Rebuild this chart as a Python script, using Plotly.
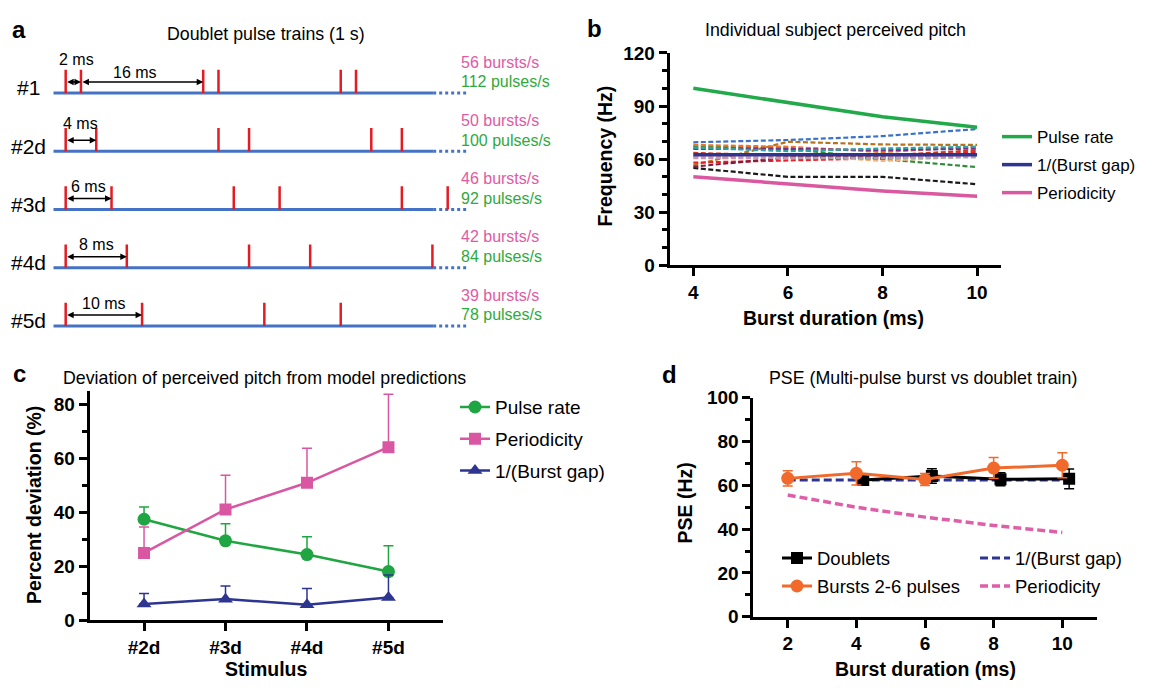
import plotly.graph_objects as go

# ---------------- data ----------------
# panel a: doublet pulse trains (pulse times in ms)
row_labels = ["#1", "#2d", "#3d", "#4d", "#5d"]
pulse_times = [
    [0, 2, 18, 20, 36, 38],
    [0, 4, 20, 24, 40, 44],
    [0, 6, 22, 28, 44, 50],
    [0, 8, 24, 32, 48],
    [0, 10, 26, 36],
]
burst_gaps_ms = [2, 4, 6, 8, 10]
burst_rates = [56, 50, 46, 42, 39]
pulse_rates = [112, 100, 92, 84, 78]
inter_burst_gap_ms = 16

# panel b: individual subject perceived pitch
b_duration = [4, 6, 8, 10]
b_pulse_rate = [100, 92, 84, 78]
b_burst_gap = [62.5, 62.5, 62.5, 62.5]
b_periodicity = [50, 46, 42, 39]
b_subjects = [
    [69.5, 70.8, 73.0, 77.0],
    [56.5, 69.8, 68.3, 68.0],
    [55.0, 50.0, 50.0, 45.8],
    [67.2, 66.0, 60.0, 55.5],
    [58.0, 59.2, 60.5, 64.0],
    [62.0, 62.5, 59.0, 61.7],
    [68.0, 67.0, 64.0, 67.0],
    [65.8, 65.8, 65.0, 66.0],
    [66.5, 64.5, 66.0, 67.0],
    [55.7, 61.0, 60.5, 63.0],
    [60.5, 60.5, 60.5, 61.0],
    [61.0, 61.0, 61.5, 62.0],
    [63.5, 62.0, 62.0, 65.0],
]
b_subject_colors = ["#3B72C4", "#B5731E", "#1A1A1A", "#2E8B3A", "#E8202A", "#F4B27A",
                    "#E8762A", "#7B2D8E", "#2AA3A3", "#7A1F3D", "#A8A8A8", "#E48AB8", "#C0392B"]

# panel c: deviation of perceived pitch from model predictions
c_stimuli = ["#2d", "#3d", "#4d", "#5d"]
c_pulse = [37.4, 29.4, 24.3, 18.0]
c_pulse_err = [4.5, 6.3, 6.6, 9.6]
c_period = [24.9, 41.0, 50.9, 64.1]
c_period_err = [9.6, 12.7, 12.8, 19.6]
c_gap = [6.0, 7.8, 5.7, 8.4]
c_gap_err = [3.9, 4.9, 6.0, 8.3]

# panel d: PSE
d_duration = [2, 4, 6, 8, 10]
d_bursts = [63.2, 65.5, 62.7, 67.9, 69.2]
d_bursts_err = [3.5, 5.3, 2.7, 4.8, 5.7]
d_doublet_duration = [4, 6, 8, 10]
d_doublets = [62.5, 64.3, 62.8, 63.0]
d_doublets_err = [2.3, 3.3, 3.0, 4.5]
d_gap = [62.5, 62.5, 62.5, 62.5, 62.5]
d_period = [55.6, 50.0, 45.5, 41.7, 38.5]

# ---------------- helpers / styles ----------------
W, H = 1154, 691
FONT = "Arial, Liberation Sans, Helvetica, sans-serif"


def px_x(p):
    return p / W


def px_y(p):
    return 1 - p / H


def dom_x(a, b):
    return [a / W, b / W]


def dom_y(top, bottom):
    return [1 - bottom / H, 1 - top / H]


GREEN = "#22A94A"
PINK = "#D9589F"
NAVY = "#2D3590"
ORANGE = "#F26A2B"
RED = "#E41B23"
BLUE = "#4472C4"
TEXT_PINK = "#E05AA2"
TEXT_GREEN = "#2EAA3C"

fig = go.Figure()
annotations = []
shapes = []

# ---------------- panel a ----------------
n_rows = len(row_labels)
PULSE_H = 0.4
bx, by = [], []
dx_, dy_ = [], []
px_, py_ = [], []
for i, times in enumerate(pulse_times):
    base = n_rows - 1 - i
    bx += [-1.62, 48.1, None]
    by += [base, base, None]
    dx_ += [48.1, 52.5, None]
    dy_ += [base, base, None]
    for t in times:
        px_ += [t, t, None]
        py_ += [base, base + PULSE_H, None]

fig.add_trace(go.Scatter(x=bx, y=by, mode="lines", line=dict(color=BLUE, width=3),
                         showlegend=False, hoverinfo="skip", xaxis="x", yaxis="y"))
fig.add_trace(go.Scatter(x=dx_, y=dy_, mode="lines", line=dict(color=BLUE, width=3, dash="3px,3px"),
                         showlegend=False, hoverinfo="skip", xaxis="x", yaxis="y"))
fig.add_trace(go.Scatter(x=px_, y=py_, mode="lines", line=dict(color=RED, width=2.5),
                         showlegend=False, hoverinfo="skip", xaxis="x", yaxis="y"))

text_offsets = [0.58, 0.476, 0.39, 0.40, 0.39]
for i, lab in enumerate(row_labels):
    base = n_rows - 1 - i
    gap = burst_gaps_ms[i]
    annotations.append(dict(x=px_x(28.5), y=base + 0.09, xref="paper", yref="y", text=lab,
                            showarrow=False, font=dict(size=21, color="black"),
                            xanchor="center", yanchor="middle"))
    annotations.append(dict(x=px_x(459), y=base + 0.53, xref="paper", yref="y",
                            text=f"{burst_rates[i]} bursts/s", showarrow=False,
                            font=dict(size=16, color=TEXT_PINK), xanchor="left", yanchor="middle"))
    annotations.append(dict(x=px_x(459), y=base + 0.19, xref="paper", yref="y",
                            text=f"{pulse_rates[i]} pulses/s", showarrow=False,
                            font=dict(size=16, color=TEXT_GREEN), xanchor="left", yanchor="middle"))
    # gap arrow
    annotations.append(dict(x=gap, y=base + 0.19, ax=0, ay=base + 0.19, xref="x", yref="y",
                            axref="x", ayref="y", text="", showarrow=True, arrowhead=2,
                            arrowside="end+start", arrowsize=1, arrowwidth=1.3, arrowcolor="black",
                            standoff=0, startstandoff=0))
    tx = gap / 2 + (0.44 if i == 0 else 0.0)
    annotations.append(dict(x=tx, y=base + text_offsets[i], xref="x", yref="y",
                            text=f"{gap} ms", showarrow=False, font=dict(size=16, color="black"),
                            xanchor="center", yanchor="middle"))
    if i == 0:
        annotations.append(dict(x=gap + inter_burst_gap_ms, y=base + 0.19, ax=gap, ay=base + 0.19,
                                xref="x", yref="y", axref="x", ayref="y", text="", showarrow=True,
                                arrowhead=2, arrowside="end+start", arrowsize=1, arrowwidth=1.3,
                                arrowcolor="black", standoff=0, startstandoff=0))
        annotations.append(dict(x=gap + inter_burst_gap_ms / 2 - 0.9, y=base + 0.36, xref="x", yref="y",
                                text=f"{inter_burst_gap_ms} ms", showarrow=False,
                                font=dict(size=16, color="black"), xanchor="center", yanchor="middle"))

# ---------------- panel b ----------------
for vals, col in zip(b_subjects, b_subject_colors):
    fig.add_trace(go.Scatter(x=b_duration, y=vals, mode="lines",
                             line=dict(color=col, width=2.2, dash="5px,2.5px"),
                             showlegend=False, hoverinfo="skip", xaxis="x2", yaxis="y2"))

for name, vals, col, grp in [("Pulse rate", b_pulse_rate, GREEN, "b1"),
                             ("1/(Burst gap)", b_burst_gap, NAVY, "b2"),
                             ("Periodicity", b_periodicity, PINK, "b3")]:
    fig.add_trace(go.Scatter(x=b_duration, y=vals, mode="lines", name=name,
                             line=dict(color=col, width=3.5), legend="legend", legendgroup=grp,
                             xaxis="x2", yaxis="y2"))

# ---------------- panel c ----------------
c_x = list(range(len(c_stimuli)))
for name, vals, err, col, sym, grp in [
        ("Pulse rate", c_pulse, c_pulse_err, "#1FA541", "circle", "c1"),
        ("Periodicity", c_period, c_period_err, "#D957A2", "square", "c2"),
        ("1/(Burst gap)", c_gap, c_gap_err, NAVY, "triangle-up", "c3")]:
    fig.add_trace(go.Scatter(
        x=c_x, y=vals, mode="lines+markers", name=name,
        line=dict(color=col, width=2.5),
        marker=dict(color=col, symbol=sym, size=13 if sym != "square" else 12),
        error_y=dict(type="data", symmetric=False, array=err, arrayminus=[0] * len(err),
                     color=col, thickness=1.5, width=5),
        legend="legend2", legendgroup=grp, xaxis="x3", yaxis="y3"))

# ---------------- panel d ----------------
fig.add_trace(go.Scatter(x=d_duration, y=d_gap, mode="lines", name="1/(Burst gap)",
                         line=dict(color=NAVY, width=3, dash="8px,4px"),
                         legend="legend4", legendgroup="d3", xaxis="x4", yaxis="y4"))
fig.add_trace(go.Scatter(x=d_duration, y=d_period, mode="lines", name="Periodicity",
                         line=dict(color="#DE5FA8", width=3.5, dash="8px,4px"),
                         legend="legend4", legendgroup="d4", xaxis="x4", yaxis="y4"))
fig.add_trace(go.Scatter(x=[v + 0.2 for v in d_doublet_duration], y=d_doublets,
                         mode="lines+markers", name="Doublets",
                         line=dict(color="black", width=3),
                         marker=dict(color="black", symbol="square", size=12),
                         error_y=dict(type="data", array=d_doublets_err, color="black",
                                      thickness=1.5, width=5),
                         legend="legend3", legendgroup="d1", xaxis="x4", yaxis="y4"))
fig.add_trace(go.Scatter(x=d_duration, y=d_bursts, mode="lines+markers", name="Bursts 2-6 pulses",
                         line=dict(color=ORANGE, width=3),
                         marker=dict(color=ORANGE, symbol="circle", size=13),
                         error_y=dict(type="data", array=d_bursts_err, color=ORANGE,
                                      thickness=1.5, width=5),
                         legend="legend3", legendgroup="d2", xaxis="x4", yaxis="y4"))

# ---------------- axes ----------------
tickfont = dict(family=FONT, size=19, color="black", weight="bold")
common = dict(showline=True, linecolor="black", linewidth=3, ticks="outside", ticklen=8,
              tickwidth=3, tickcolor="black", showgrid=False, zeroline=False, tickfont=tickfont,
              fixedrange=True)
minor = dict(dtick=10, ticks="outside", ticklen=5, tickwidth=2.5, tickcolor="black", showgrid=False)

layout = dict(
    width=W, height=H, autosize=False,
    margin=dict(l=0, r=0, t=0, b=0),
    paper_bgcolor="white", plot_bgcolor="white",
    font=dict(family=FONT, color="black"),
    xaxis=dict(domain=dom_x(53.3, 466.8), range=[-1.62, 52.5], visible=False, anchor="y",
               fixedrange=True),
    yaxis=dict(domain=dom_y(37.6, 344), range=[-0.3, 4.8], visible=False, anchor="x",
               fixedrange=True),
    xaxis2=dict(domain=dom_x(669.7, 1000.7), range=[3.5, 10.5], tickvals=b_duration,
                anchor="y2", **common),
    yaxis2=dict(domain=dom_y(44.3, 263.3), range=[0, 120], dtick=30, minor=minor,
                anchor="x2", **common),
    xaxis3=dict(domain=dom_x(89.7, 442.8), range=[-0.667, 3.667], tickvals=c_x, ticktext=c_stimuli,
                anchor="y3", **common),
    yaxis3=dict(domain=dom_y(392.7, 629.3), range=[0, 85], dtick=20, minor=minor,
                anchor="x3", **common),
    xaxis4=dict(domain=dom_x(753.4, 1096.6), range=[1, 11], tickvals=d_duration,
                anchor="y4", **common),
    yaxis4=dict(domain=dom_y(400, 625.7), range=[0, 100], dtick=20, minor=minor,
                anchor="x4", **common),
    legend=dict(x=px_x(997), y=px_y(112.5), xanchor="left", yanchor="top",
                font=dict(size=17, color="black"), tracegroupgap=2.9, traceorder="grouped",
                bgcolor="rgba(0,0,0,0)"),
    legend2=dict(x=px_x(455), y=px_y(390), xanchor="left", yanchor="top",
                 font=dict(size=19, color="black"), tracegroupgap=4.1, traceorder="grouped",
                 bgcolor="rgba(0,0,0,0)"),
    legend3=dict(x=px_x(777), y=px_y(546), xanchor="left", yanchor="top",
                 font=dict(size=18.5, color="black"), tracegroupgap=1.0, traceorder="grouped",
                 bgcolor="rgba(0,0,0,0)"),
    legend4=dict(x=px_x(975), y=px_y(546), xanchor="left", yanchor="top",
                 font=dict(size=18.5, color="black"), tracegroupgap=1.0, traceorder="grouped",
                 bgcolor="rgba(0,0,0,0)"),
)

# dotted baseline under the x axes of b and c
for ax in ["2", "3"]:
    shapes.append(dict(type="line", xref=f"x{ax} domain", yref=f"y{ax}", ysizemode="pixel",
                       yanchor=0, x0=0, x1=1, y0=-3.5, y1=-3.5,
                       line=dict(color="black", width=2, dash="2px,2px")))


def text_at(x, y, txt, size, bold=False, angle=0, anchor="center"):
    annotations.append(dict(x=px_x(x), y=px_y(y), xref="paper", yref="paper", text=txt,
                            showarrow=False, textangle=angle, xanchor=anchor, yanchor="middle",
                            font=dict(size=size, color="black", family=FONT,
                                      weight="bold" if bold else "normal")))


text_at(19, 20, "a", 24, bold=True)
text_at(594, 19, "b", 24, bold=True)
text_at(19, 375, "c", 24, bold=True)
text_at(669, 376, "d", 24, bold=True)

text_at(265.7, 25, "Doublet pulse trains (1 s)", 17.8)
text_at(835, 21, "Individual subject perceived pitch", 17.8)
text_at(264, 380, "Deviation of perceived pitch from model predictions", 17.8)
text_at(922.6, 379.3, "PSE (Multi-pulse burst vs doublet train)", 17.8)

text_at(833, 317.3, "Burst duration (ms)", 19.5, bold=True)
text_at(605.3, 150.8, "Frequency (Hz)", 19.5, bold=True, angle=-90)
text_at(266.4, 680, "Stimulus", 19.5, bold=True)
text_at(34.7, 510.8, "Percent deviation (%)", 19.5, bold=True, angle=-90)
text_at(925.2, 679.3, "Burst duration (ms)", 19.5, bold=True)
text_at(685, 509, "PSE (Hz)", 19.5, bold=True, angle=-90)

layout["annotations"] = annotations
layout["shapes"] = shapes
fig.update_layout(**layout)

# remove the browser's default 8px page margin so the figure sits at the page origin
fig.write_html("out.html", config={"displayModeBar": False},
               post_script="document.body.style.margin='0';")
